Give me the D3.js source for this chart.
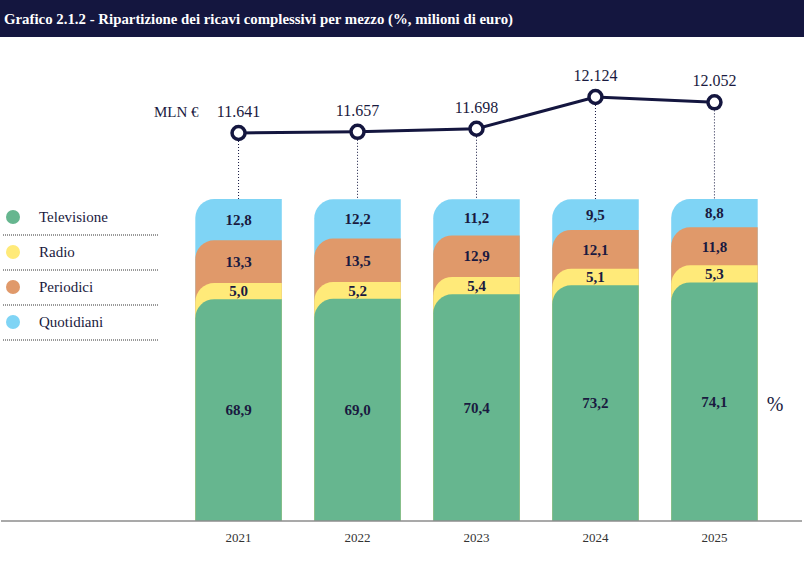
<!DOCTYPE html>
<html><head><meta charset="utf-8">
<script src="https://cdn.jsdelivr.net/npm/d3@7"></script>
<style>body{margin:0;background:#fff}svg{display:block}</style>
</head><body>
<svg id="c" width="804" height="562"></svg>
<script>
const years = ["2021","2022","2023","2024","2025"];
const televisione = [68.9, 69.0, 70.4, 73.2, 74.1];
const radio = [5.0, 5.2, 5.4, 5.1, 5.3];
const periodici = [13.3, 13.5, 12.9, 12.1, 11.8];
const quotidiani = [12.8, 12.2, 11.2, 9.5, 8.8];
const totals = [11641, 11657, 11698, 12124, 12052];
const totalLabels = ["11.641","11.657","11.698","12.124","12.052"];
const seriesNames = ["Televisione","Radio","Periodici","Quotidiani"];
const seriesColors = ["#66b68f","#ffea79","#e0996a","#7fd4f5"];

const svg = d3.select("#c");
const navy = "#14163f";
const serif = "'Liberation Serif','DejaVu Serif',serif";

// header
svg.append("rect").attr("x",0).attr("y",0).attr("width",804).attr("height",37).attr("fill",navy);
svg.append("text").attr("x",4).attr("y",24).attr("fill","#fff").attr("font-family",serif)
  .attr("font-weight","bold").attr("font-size",14.5).attr("textLength",509).attr("lengthAdjust","spacingAndGlyphs")
  .text("Grafico 2.1.2 - Ripartizione dei ricavi complessivi per mezzo (%, milioni di euro)");

const x = d3.scaleBand().domain(years).range([179, 774]).paddingInner(0.273).paddingOuter(0.137);
const y = d3.scaleLinear().domain([0,100]).range([521,199]);
const yL = d3.scaleLinear().domain([11641,12124]).range([133,97]);

const series = [televisione, radio, periodici, quotidiani];
const stack = years.map((yr,i)=>{
  let cum=0; const segs=[];
  series.forEach((s,k)=>{ segs.push({k, y0:cum, y1:cum+s[i], v:s[i]}); cum+=s[i]; });
  return {yr, segs};
});

function topLeftRounded(x0,y0,w,yb,r){
  return `M${x0},${y0+r} A${r},${r} 0 0 1 ${x0+r},${y0} H${x0+w} V${yb} H${x0} Z`;
}
const r = 19;
const g = svg.append("g");
stack.forEach(d=>{
  const bx = x(d.yr), bw = x.bandwidth();
  for(let k=3;k>=0;k--){
    const s = d.segs[k];
    g.append("path").attr("d", topLeftRounded(bx, y(s.y1), bw, y(0), r)).attr("fill", seriesColors[k]);
  }
  d.segs.forEach(s=>{
    g.append("text").attr("x", bx+bw/2).attr("y", (y(s.y0)+y(s.y1))/2).attr("dy","0.35em")
      .attr("text-anchor","middle").attr("font-family",serif).attr("font-weight","bold")
      .attr("font-size",15).attr("fill","#1a1a40").text(d3.format(".1f")(s.v).replace(".",","));
  });
});

// baseline
svg.append("line").attr("x1",1).attr("x2",802).attr("y1",521).attr("y2",521).attr("stroke","#8c8c8c").attr("stroke-width",1.5);

// year labels
svg.selectAll(".yr").data(years).enter().append("text").attr("x",d=>x(d)+x.bandwidth()/2).attr("y",542)
  .attr("text-anchor","middle").attr("font-family",serif).attr("font-size",13).attr("fill","#333").text(d=>d);

// percent sign
svg.append("text").attr("x",775).attr("y",411).attr("text-anchor","middle").attr("font-family",serif)
  .attr("font-size",20).attr("fill","#1a1a40").text("%");

// dotted connectors
years.forEach((yr,i)=>{
  const cx = x(yr)+x.bandwidth()/2;
  svg.append("line").attr("x1",cx).attr("x2",cx).attr("y1",yL(totals[i])+8).attr("y2",199)
    .attr("stroke",navy).attr("stroke-width",1).attr("stroke-dasharray","1,2");
});

// line
const line = d3.line().x((d,i)=>x(years[i])+x.bandwidth()/2).y(d=>yL(d));
svg.append("path").datum(totals).attr("d",line).attr("fill","none").attr("stroke",navy).attr("stroke-width",3);
svg.selectAll(".mk").data(totals).enter().append("circle")
  .attr("cx",(d,i)=>x(years[i])+x.bandwidth()/2).attr("cy",d=>yL(d)).attr("r",6.5)
  .attr("fill","#fff").attr("stroke",navy).attr("stroke-width",3.5);
svg.selectAll(".tl").data(totals).enter().append("text")
  .attr("x",(d,i)=>x(years[i])+x.bandwidth()/2).attr("y",d=>yL(d)-16)
  .attr("text-anchor","middle").attr("font-family",serif).attr("font-size",16).attr("fill","#1a1a40")
  .text((d,i)=>totalLabels[i]);
svg.append("text").attr("x",154).attr("y",117).attr("font-family",serif).attr("font-size",15).attr("fill","#1a1a40").text("MLN €");

// legend
seriesNames.forEach((n,k)=>{
  const cy = 217 + k*35;
  svg.append("circle").attr("cx",13).attr("cy",cy).attr("r",7).attr("fill",seriesColors[k]);
  svg.append("text").attr("x",39).attr("y",cy).attr("dy","0.35em").attr("font-family",serif).attr("font-size",15)
    .attr("fill","#1a1a40").text(n);
  svg.append("line").attr("x1",3).attr("x2",158).attr("y1",cy+18).attr("y2",cy+18)
    .attr("stroke","#333").attr("stroke-width",1).attr("stroke-dasharray","1,1");
});
</script>
</body></html>
